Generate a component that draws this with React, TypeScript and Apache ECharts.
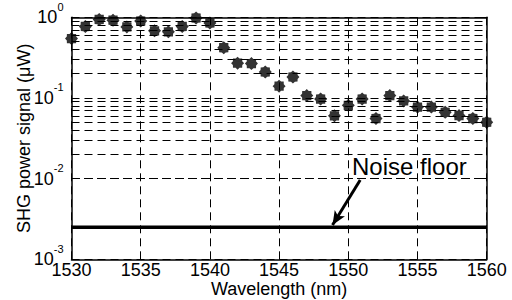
import React, { useEffect, useRef } from "react";
import * as echarts from "echarts";

const wavelengths = [
  1530, 1531, 1532, 1533, 1534, 1535, 1536, 1537, 1538, 1539, 1540,
  1541, 1542, 1543, 1544, 1545, 1546, 1547, 1548, 1549, 1550,
  1551, 1552, 1553, 1554, 1555, 1556, 1557, 1558, 1559, 1560,
];
const shgPower = [
  0.545, 0.77, 0.94, 0.92, 0.76, 0.9, 0.68, 0.66, 0.77, 0.98, 0.85,
  0.42, 0.27, 0.267, 0.21, 0.14, 0.182, 0.107, 0.097, 0.06, 0.081,
  0.097, 0.0556, 0.107, 0.092, 0.077, 0.077, 0.0665, 0.0605, 0.0556, 0.05,
];
const noiseFloor = 0.0025;
const xRange = [1530, 1560];
const yRange = [0.001, 1];
const minorGridValues = [
  0.002, 0.003, 0.004, 0.005, 0.006, 0.007, 0.008, 0.009,
  0.02, 0.03, 0.04, 0.05, 0.06, 0.07, 0.08, 0.09,
  0.2, 0.3, 0.4, 0.5, 0.6, 0.7, 0.8, 0.9,
];
const arrowFrom = [1550.86, 0.0096];
const arrowTo = [1548.86, 0.00266];
const annotationText = "Noise floor";
const xTitle = "Wavelength (nm)";
const yTitle = "SHG power signal (\u03bcW)";

const FONT = "'Liberation Sans', Arial, sans-serif";

function starPath(points: number, inner: number): string {
  const parts: string[] = [];
  for (let i = 0; i < points * 2; i++) {
    const a = (Math.PI * i) / points - Math.PI / 2;
    const r = i % 2 === 0 ? 50 : 50 * inner;
    const x = (50 + r * Math.cos(a)).toFixed(2);
    const y = (50 + r * Math.sin(a)).toFixed(2);
    parts.push((i === 0 ? "M" : "L") + x + " " + y);
  }
  return "path://" + parts.join(" ") + " Z";
}

export default function App() {
  const ref = useRef<HTMLDivElement>(null);
  useEffect(() => {
    if (!ref.current) return;
    const chart = echarts.init(ref.current, null, { renderer: "svg" });
    const grid = {
      left: 71.5,
      right: 25.3,
      top: 17.3,
      bottom: 40.7,
      containLabel: false,
      outerBoundsMode: "none",
    };
    const axisLine = { show: true, lineStyle: { color: "#000", width: 1.5 } };
    const tick = { show: true, inside: true, length: 5, lineStyle: { color: "#000", width: 1 } };
    const dashed = { show: true, lineStyle: { color: "#000", width: 1, type: [8, 5] as any } };

    chart.setOption({
      animation: false,
      backgroundColor: "#fff",
      grid,
      xAxis: [
        {
          type: "value",
          min: xRange[0],
          max: xRange[1],
          interval: 5,
          position: "bottom",
          axisLine,
          axisTick: tick,
          splitLine: dashed,
          axisLabel: {
            color: "#000",
            fontSize: 18,
            lineHeight: 16,
            fontFamily: FONT,
            margin: 3,
            formatter: (v: number) => String(v),
          },
          name: xTitle,
          nameLocation: "middle",
          nameGap: 22,
          nameMoveOverlap: false,
          nameTextStyle: { color: "#000", fontSize: 18, lineHeight: 16, fontFamily: FONT },
        },
        {
          type: "value",
          min: xRange[0],
          max: xRange[1],
          interval: 5,
          position: "top",
          axisLine,
          axisTick: tick,
          splitLine: { show: false },
          axisLabel: { show: false },
        },
      ],
      yAxis: [
        {
          type: "log",
          logBase: 10,
          min: yRange[0],
          max: yRange[1],
          position: "left",
          axisLine,
          axisTick: tick,
          splitLine: dashed,
          axisLabel: {
            margin: 8,
            formatter: (v: number) => `{b|10}{s|${Math.round(Math.log10(v))}}`,
            rich: {
              b: { fontSize: 18, fontFamily: FONT, color: "#000", padding: [7, 0, 7, 0] },
              s: { fontSize: 11, fontFamily: FONT, color: "#000", verticalAlign: "top" },
            },
          },
          name: yTitle,
          nameLocation: "middle",
          nameRotate: 90,
          nameGap: 39,
          nameMoveOverlap: false,
          nameTextStyle: { color: "#000", fontSize: 18, fontFamily: FONT },
        },
        {
          type: "log",
          logBase: 10,
          min: yRange[0],
          max: yRange[1],
          position: "right",
          axisLine,
          axisTick: tick,
          splitLine: { show: false },
          axisLabel: { show: false },
        },
      ],
      series: [
        {
          type: "line",
          name: "noise",
          data: [
            [xRange[0], noiseFloor],
            [xRange[1], noiseFloor],
          ],
          showSymbol: false,
          symbol: "none",
          lineStyle: { color: "#000", width: 3.5 },
          z: 3,
          markLine: {
            silent: true,
            symbol: ["none", "none"],
            label: { show: false },
            lineStyle: { color: "#000", width: 1, type: [8, 5] as any },
            data: minorGridValues.map((v) => ({ yAxis: v })),
            z: 1,
          },
        },
        {
          type: "line",
          name: "arrow",
          data: [],
          markLine: {
            silent: true,
            symbol: ["none", "arrow"],
            symbolSize: [9, 14],
            label: { show: false },
            lineStyle: { color: "#000", width: 3, type: "solid" },
            data: [[{ coord: arrowFrom }, { coord: arrowTo }]],
          },
          z: 4,
        },
        {
          type: "scatter",
          name: "SHG",
          data: wavelengths.map((w, i) => [w, shgPower[i]]),
          symbol: starPath(8, 0.78),
          symbolSize: 13,
          itemStyle: { color: "#000" },
          clip: false,
          z: 5,
        },
      ],
      graphic: [
        {
          type: "text",
          left: 352,
          top: 154,
          style: {
            text: annotationText,
            fill: "#000",
            fontSize: 24,
            fontFamily: FONT,
          },
          z: 10,
        },
      ],
    });
    return () => chart.dispose();
  }, []);
  return (
    <div
      ref={ref}
      style={{ position: "absolute", left: 0, top: 0, width: 512, height: 300, background: "#fff" }}
    />
  );
}
